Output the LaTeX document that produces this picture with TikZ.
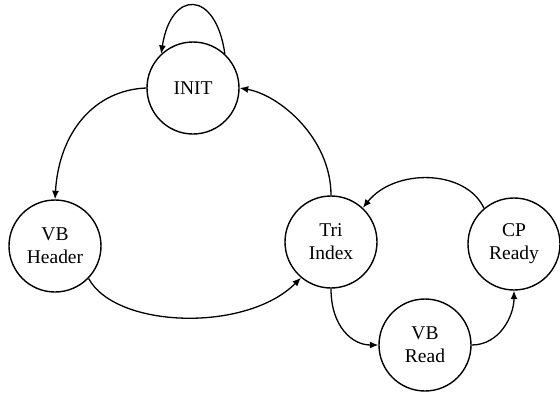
\documentclass[tikz,border=0pt]{standalone}
\usepackage{fontspec}
\setmainfont{Liberation Serif}
\usetikzlibrary{arrows.meta}
\begin{document}
\begin{tikzpicture}[x=1pt,y=-1pt,
  state/.style={circle,draw,line width=1.4pt,minimum size=92pt,inner sep=0pt,
    align=center,font=\fontsize{19.5}{23}\selectfont},
  edge/.style={line width=1.3pt,-{Latex[length=8.5pt,width=7pt]}}]
\useasboundingbox (0,0) rectangle (560,394);
\node[state] (init) at (193,88) {INIT};
\node[state] (vbh) at (55,246) {VB\\Header};
\node[state] (tri) at (331,242) {Tri\\Index};
\node[state] (cp) at (514,244) {CP\\Ready};
\node[state] (vbr) at (425,345) {VB\\Read};
\draw[edge] (init.47) .. controls +(-9,-64) and +(10,-65) .. (init.133);
\draw[edge] (init.west) .. controls +(-52,2) and +(4,-67) .. (vbh.north);
\draw[edge] (tri.north) .. controls +(0,-57) and +(40,7) .. (init.east);
\draw[edge] (vbh.-44) .. controls +(27,50) and +(-55,55) .. (tri.230);
\draw[edge] (tri.south) .. controls +(0,38) and +(-26,0) .. (vbr.west);
\draw[edge] (vbr.east) .. controls +(28,0) and +(0,25) .. (cp.south);
\draw[edge] (cp.130) .. controls +(-18,-39) and +(32,-40) .. (tri.47);
\end{tikzpicture}
\end{document}
